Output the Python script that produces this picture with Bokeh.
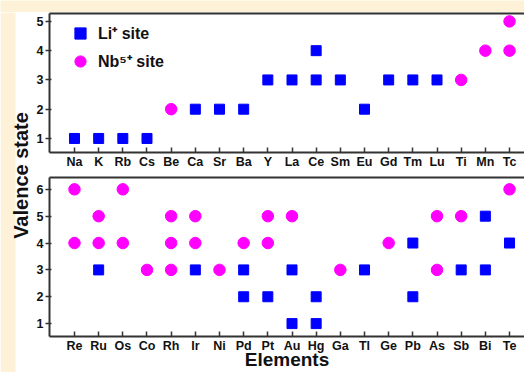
import math
from bokeh.plotting import figure
from bokeh.layouts import row, column
from bokeh.models import Range1d, FixedTicker, LinearAxis, Label, BoxAnnotation
from bokeh.embed import file_html
from bokeh.resources import INLINE

# ---- data ----
top_elements = ["Na", "K", "Rb", "Cs", "Be", "Ca", "Sr", "Ba", "Y", "La", "Ce",
                "Sm", "Eu", "Gd", "Tm", "Lu", "Ti", "Mn", "Tc"]
bottom_elements = ["Re", "Ru", "Os", "Co", "Rh", "Ir", "Ni", "Pd", "Pt", "Au", "Hg",
                   "Ga", "Tl", "Ge", "Pb", "As", "Sb", "Bi", "Te"]

top_li_elements = ["Na", "K", "Rb", "Cs", "Ca", "Sr", "Ba", "Y", "La", "Ce", "Ce",
                   "Sm", "Eu", "Gd", "Tm", "Lu"]
top_li_valence = [1, 1, 1, 1, 2, 2, 2, 3, 3, 3, 4, 3, 2, 3, 3, 3]
top_nb_elements = ["Be", "Ti", "Mn", "Tc", "Tc"]
top_nb_valence = [2, 3, 4, 4, 5]

bottom_nb_elements = ["Re", "Re", "Ru", "Ru", "Os", "Os", "Co", "Rh", "Rh", "Rh",
                      "Ir", "Ir", "Ni", "Pd", "Pt", "Pt", "Au", "Ga", "Ge", "As",
                      "As", "Sb", "Te"]
bottom_nb_valence = [4, 6, 4, 5, 4, 6, 3, 3, 4, 5, 4, 5, 3, 4, 4, 5, 5, 3, 4, 3, 5, 5, 6]
bottom_li_elements = ["Ru", "Ir", "Pd", "Pd", "Pt", "Au", "Au", "Hg", "Hg", "Tl",
                      "Pb", "Pb", "Sb", "Bi", "Bi", "Te"]
bottom_li_valence = [3, 3, 3, 2, 2, 3, 1, 2, 1, 3, 4, 2, 3, 3, 5, 4]

top_yticks = [1, 2, 3, 4, 5]
bottom_yticks = [1, 2, 3, 4, 5, 6]

legend_labels = ["Li\u207A site", "Nb\u2075\u207A site"]
y_title = "Valence state"
x_title = "Elements"

# ---- style ----
FONT = "Liberation Sans"
BLUE = "#0000FF"
MAGENTA = "#FF00FF"
AXIS = "#333333"
BEIGE = "#FDF2D8"


def bare(width, height, xr, yr, bg="white"):
    f = figure(width=width, height=height, x_range=Range1d(*xr), y_range=Range1d(*yr),
               x_axis_type=None, y_axis_type=None, output_backend="svg",
               toolbar_location=None, min_border=0)
    f.outline_line_color = None
    f.background_fill_color = bg
    f.border_fill_color = bg
    return f


def panel(elements, li_el, li_v, nb_el, nb_v, yr, yticks, height,
          b_top, b_bottom, show_legend=False, xlabel=None):
    p = figure(width=492, height=height,
               x_range=Range1d(-0.034, 19.62), y_range=Range1d(*yr),
               output_backend="svg", toolbar_location=None,
               min_border_left=17, min_border_right=0,
               min_border_top=b_top, min_border_bottom=b_bottom)
    p.grid.visible = False
    p.outline_line_color = None
    p.background_fill_color = "white"
    p.border_fill_color = "white"

    xa = p.xaxis[0]
    xa.ticker = FixedTicker(ticks=list(range(1, len(elements) + 1)))
    xa.major_label_overrides = {i + 1: e for i, e in enumerate(elements)}
    xa.major_tick_in = 5
    xa.major_tick_out = 0
    xa.minor_tick_line_color = None
    xa.major_label_standoff = 2
    xa.major_label_text_font = FONT
    xa.major_label_text_font_style = "bold"
    xa.major_label_text_font_size = "12.5px"
    xa.major_label_text_color = "#111111"
    xa.axis_line_color = AXIS
    xa.axis_line_width = 2
    xa.major_tick_line_color = AXIS
    xa.major_tick_line_width = 1.5
    if xlabel:
        xa.axis_label = xlabel
        xa.axis_label_text_font = FONT
        xa.axis_label_text_font_style = "bold"
        xa.axis_label_text_font_size = "19px"
        xa.axis_label_text_color = "#111111"
        xa.axis_label_standoff = -7

    ya = p.yaxis[0]
    ya.ticker = FixedTicker(ticks=yticks)
    ya.major_tick_in = 2
    ya.major_tick_out = 4
    ya.minor_tick_line_color = None
    ya.major_label_standoff = 2
    ya.major_label_text_font = FONT
    ya.major_label_text_font_style = "bold"
    ya.major_label_text_font_size = "12.5px"
    ya.major_label_text_color = "#111111"
    ya.axis_line_color = AXIS
    ya.axis_line_width = 2
    ya.major_tick_line_color = AXIS
    ya.major_tick_line_width = 1.5

    top_axis = LinearAxis(ticker=FixedTicker(ticks=[]),
                          major_label_text_font_size="0px",
                          major_tick_line_color=None,
                          minor_tick_line_color=None,
                          axis_line_color=AXIS, axis_line_width=2)
    p.add_layout(top_axis, "above")

    li_x = [elements.index(e) + 1 for e in li_el]
    nb_x = [elements.index(e) + 1 for e in nb_el]
    kw_li = dict(legend_label=legend_labels[0]) if show_legend else {}
    kw_nb = dict(legend_label=legend_labels[1]) if show_legend else {}
    p.scatter(li_x, li_v, marker="square", size=10,
              fill_color=BLUE, line_color=BLUE, **kw_li)
    p.scatter(nb_x, nb_v, marker="circle", size=11.5,
              fill_color=MAGENTA, line_color=MAGENTA, **kw_nb)

    if show_legend:
        lg = p.legend[0]
        lg.location = (17, 77)
        lg.margin = 0
        lg.padding = 0
        lg.spacing = 0
        lg.glyph_width = 28
        lg.glyph_height = 28
        lg.label_height = 28
        lg.label_standoff = 4
        lg.label_text_font = FONT
        lg.label_text_font_style = "bold"
        lg.label_text_font_size = "16px"
        lg.label_text_color = "#111111"
        lg.border_line_color = None
        lg.background_fill_alpha = 0
    return p


top = panel(top_elements, top_li_elements, top_li_valence,
            top_nb_elements, top_nb_valence, (0.52, 5.27), top_yticks,
            162, 1, 22, show_legend=True)
bottom = panel(bottom_elements, bottom_li_elements, bottom_li_valence,
               bottom_nb_elements, bottom_nb_valence, (0.52, 6.44), bottom_yticks,
               198, 3, 34, xlabel=x_title)

# left strip with the shared y title
lf = bare(32, 360, (0, 32), (0, 360))
lf.add_layout(BoxAnnotation(left=0, right=15, fill_color=BEIGE, fill_alpha=1,
                            line_color=None))
lf.add_layout(Label(x=20.5, y=197, text=y_title, angle=math.pi / 2,
                    text_align="center", text_baseline="middle",
                    text_font=FONT, text_font_style="bold",
                    text_font_size="20px", text_color="#111111"))

# beige strip on top
strip = bare(524, 12, (0, 1), (0, 1), bg=BEIGE)

layout = column(strip, row(lf, column(top, bottom)))

open("out.html", "w").write(file_html(layout, INLINE))
